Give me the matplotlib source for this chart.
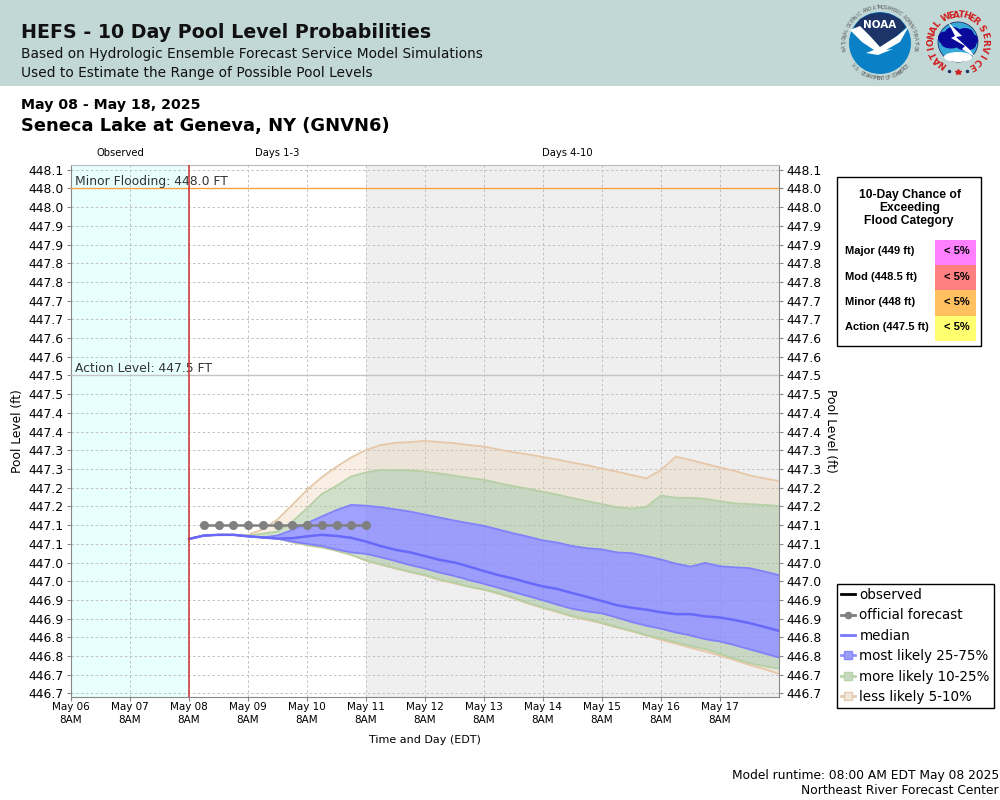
import numpy as np
import pandas as pd
import matplotlib
matplotlib.use("Agg")
import matplotlib.pyplot as plt
from matplotlib.lines import Line2D
from matplotlib.patches import Circle, Ellipse, Polygon, Rectangle

################################################################################
# data, 6 hourly from May 08 8AM, feet
median = [447.063,447.072,447.074,447.074,447.070,447.067,447.064,447.065,447.070,447.074,
          447.071,447.066,447.056,447.044,447.034,447.027,447.017,447.007,447.000,446.989,
          446.977,446.966,446.957,446.946,446.936,446.929,446.918,446.908,446.897,446.886,
          446.879,446.874,446.867,446.862,446.862,446.856,446.853,446.846,446.838,446.828,446.817]
p75 = [447.063,447.072,447.074,447.074,447.070,447.067,447.072,447.087,447.105,447.123,
       447.140,447.154,447.152,447.148,447.142,447.136,447.128,447.120,447.112,447.105,
       447.098,447.088,447.078,447.069,447.059,447.053,447.044,447.038,447.035,447.027,
       447.025,447.017,447.008,446.997,446.989,446.999,446.990,446.987,446.985,446.976,446.966]
p25 = [447.063,447.072,447.074,447.074,447.070,447.067,447.064,447.056,447.050,447.044,
       447.035,447.027,447.023,447.014,447.004,446.993,446.984,446.973,446.964,446.953,
       446.943,446.932,446.921,446.910,446.899,446.887,446.876,446.869,446.864,446.853,
       446.841,446.831,446.823,446.813,446.805,446.795,446.789,446.779,446.768,446.757,446.746]
p90 = [447.063,447.072,447.074,447.074,447.072,447.077,447.083,447.109,447.145,447.183,
       447.205,447.230,447.241,447.247,447.247,447.246,447.243,447.238,447.232,447.226,
       447.221,447.212,447.204,447.197,447.189,447.181,447.172,447.164,447.156,447.148,
       447.144,447.149,447.179,447.173,447.173,447.170,447.164,447.158,447.156,447.154,447.151]
p10 = [447.063,447.072,447.074,447.074,447.070,447.067,447.064,447.055,447.047,447.041,
       447.032,447.021,447.006,446.995,446.985,446.975,446.967,446.955,446.946,446.935,
       446.928,446.918,446.906,446.892,446.880,446.869,446.857,446.849,446.839,446.828,
       446.818,446.806,446.797,446.787,446.777,446.769,446.756,446.743,446.731,446.723,446.716]
p95 = [447.063,447.072,447.074,447.074,447.074,447.089,447.115,447.154,447.194,447.228,
       447.256,447.281,447.301,447.314,447.320,447.322,447.325,447.322,447.319,447.314,
       447.310,447.302,447.295,447.289,447.282,447.275,447.267,447.260,447.251,447.243,
       447.234,447.225,447.247,447.283,447.274,447.264,447.254,447.245,447.233,447.225,447.218]
p5 = [447.063,447.072,447.074,447.074,447.070,447.067,447.064,447.054,447.046,447.040,
      447.031,447.020,447.005,446.994,446.984,446.974,446.965,446.953,446.944,446.935,
      446.927,446.916,446.904,446.890,446.878,446.867,446.855,446.846,446.837,446.826,
      446.816,446.805,446.793,446.783,446.772,446.762,446.751,446.739,446.726,446.715,446.702]
official = [447.10]*12

yTicks = [448.05,448.00,447.95,447.90,447.85,447.80,447.75,447.70,447.65,447.60,447.55,447.50,
          447.45,447.40,447.35,447.30,447.25,447.20,447.15,447.10,447.05,447.00,446.95,446.90,
          446.85,446.80,446.75,446.70,446.65]
yLabels = ["448.1","448.0","448.0","447.9","447.9","447.8","447.8","447.7","447.7","447.6","447.6","447.5",
           "447.5","447.4","447.4","447.3","447.3","447.2","447.2","447.1","447.1","447.0","447.0","446.9",
           "446.9","446.8","446.8","446.7","446.7"]
categories = ["Major (449 ft)","Mod (448.5 ft)","Minor (448 ft)","Action (447.5 ft)"]
chances = ["< 5%","< 5%","< 5%","< 5%"]
catColors = ["#ff80ff","#ff8080","#ffc060","#ffff70"]
minorLevel = 448.0
actionLevel = 447.5

################################################################################
plt.rcParams['font.family'] = ['DejaVu Sans']
fig = plt.figure(figsize=(10, 8), dpi=100, facecolor="white")

# page furniture is placed in pixels on a full figure axes
page = fig.add_axes([0, 0, 1, 1], zorder=0)
page.set_xlim(0, 1000); page.set_ylim(800, 0); page.axis("off")
over = fig.add_axes([0, 0, 1, 1], zorder=5)
over.set_xlim(0, 1000); over.set_ylim(800, 0); over.axis("off"); over.patch.set_alpha(0)

page.add_patch(Rectangle((0, 0), 1000, 85.5, fc="#c2d8d6", ec="none"))
page.text(21, 33, "HEFS - 10 Day Pool Level Probabilities", fontsize=13.7, fontweight="bold", color="#111111", va="center")
page.text(21, 54, "Based on Hydrologic Ensemble Forecast Service Model Simulations", fontsize=9.9, color="#111111", va="center")
page.text(21, 73, "Used to Estimate the Range of Possible Pool Levels", fontsize=9.9, color="#111111", va="center")
page.text(21, 105, "May 08 - May 18, 2025", fontsize=10.2, fontweight="bold", color="black", va="center")
page.text(21, 126, "Seneca Lake at Geneva, NY (GNVN6)", fontsize=12.9, fontweight="bold", color="black", va="center")
page.text(120, 153.5, "Observed", fontsize=7.2, ha="center", va="center")
page.text(277, 153.5, "Days 1-3", fontsize=7.2, ha="center", va="center")
page.text(567, 153.5, "Days 4-10", fontsize=7.2, ha="center", va="center")
page.text(425, 740, "Time and Day (EDT)", fontsize=8, ha="center", va="center")
page.text(18, 431, "Pool Level (ft)", fontsize=8.8, rotation=90, ha="center", va="center")
page.text(831, 431, "Pool Level (ft)", fontsize=8.8, rotation=270, ha="center", va="center")
page.text(999, 775, "Model runtime: 08:00 AM EDT May 08 2025", fontsize=8.8, ha="right", va="center")
page.text(999, 791, "Northeast River Forecast Center", fontsize=8.8, ha="right", va="center")

def ring_text(ax, cx, cy, r, text, a0, a1, color, size, weight="normal", bottom=False):
	# angles clockwise from the top of the circle
	for ch, a in zip(text, np.linspace(a0, a1, len(text))):
		t = np.radians(a)
		rot = 180 - a if bottom else -a
		ax.text(cx + r*np.sin(t), cy - r*np.cos(t), ch, color=color, fontsize=size, fontweight=weight,
				rotation=rot, ha="center", va="center", rotation_mode="anchor")

# NOAA logo
cx, cy = 880, 43
page.add_patch(Circle((cx, cy), 31, fc="#0a80c6", ec="none"))
page.add_patch(Polygon([[854, 27], [860, 19], [870, 14], [880, 12.5], [890, 14], [900, 19], [906, 27], [893, 40], [881, 48], [868, 38]],
					   fc="#1c3468", ec="none"))
page.add_patch(Polygon([[850, 30], [860, 26], [870, 36], [880, 47], [897, 36], [909, 26], [900, 42], [886, 50], [893, 49], [878, 55], [866, 53], [874, 50], [862, 42]],
					   fc="white", ec="none"))
page.text(880, 25, "NOAA", color="white", fontsize=7.5, fontweight="bold", ha="center", va="center")
ring_text(page, cx, cy, 35.5, "NATIONAL OCEANIC AND ATMOSPHERIC ADMINISTRATION", -100, 100, "#555555", 3.3)
ring_text(page, cx, cy, 35.5, "U.S. DEPARTMENT OF COMMERCE", -130, -230, "#555555", 3.3, bottom=True)

# NWS logo
nx, ny = 958, 42
page.add_patch(Circle((nx, ny), 20, fc="#38a8d8", ec="#1c3468", lw=0.6))
page.add_patch(Ellipse((nx, ny+15), 28, 10, fc="white", ec="none"))
for ex, ey, ew, eh in [(945, 38, 14, 13), (953, 33, 16, 12), (965, 35, 18, 14), (972, 40, 12, 12), (951, 43, 20, 11), (966, 45, 20, 11)]:
	page.add_patch(Ellipse((ex, ey), ew, eh, fc="#0a0a9a", ec="none"))
page.add_patch(Polygon([[948, 22], [962, 36], [956, 37], [970, 50], [975, 57], [962, 49], [965, 46], [951, 38], [955, 36]], fc="white", ec="none"))
ring_text(page, nx, ny, 27, "NATIONAL", -144, -49, "#d02020", 6.5, "bold")
ring_text(page, nx, ny, 27, "WEATHER", -25, 39, "#d02020", 6.5, "bold")
ring_text(page, nx, ny, 27, "SERVICE", 60, 150, "#d02020", 6.5, "bold")
page.plot([949, 967], [71, 71], ls="none", marker="o", ms=1.5, color="#1c3468")
page.plot([958], [72], ls="none", marker="*", ms=4, color="#d02020")

################################################################################
# main plot
ax = fig.add_axes([0.071, 1-697/800, 0.708, (697-165)/800], zorder=2)
ax.set_facecolor("white")
times = pd.date_range("2025-05-08 08:00", periods=len(median), freq="6h")
fcstTimes = pd.date_range("2025-05-08 14:00", periods=len(official), freq="6h")
t0 = pd.Timestamp("2025-05-06 08:00")
tNow = pd.Timestamp("2025-05-08 08:00")
tDay3 = pd.Timestamp("2025-05-11 08:00")
tEnd = pd.Timestamp("2025-05-18 08:00")

ax.axvspan(t0, tNow, color="#e8ffff", lw=0, zorder=0)
ax.axvspan(tDay3, tEnd, color="#efefef", lw=0, zorder=0)
ax.set_axisbelow(True)
ax.grid(True, color="#c0c0c0", ls=(0, (2.5, 2.5)), lw=0.7)

ax.fill_between(times, p90, p95, color="#e8c9a8", alpha=0.3, lw=0, zorder=2)
ax.fill_between(times, p5, p10, color="#e8c9a8", alpha=0.3, lw=0, zorder=2)
ax.fill_between(times, p75, p90, color="#a8c5a0", alpha=0.55, lw=0, zorder=2)
ax.fill_between(times, p10, p25, color="#a8c5a0", alpha=0.55, lw=0, zorder=2)
ax.fill_between(times, p25, p75, color="#8888ff", alpha=0.8, lw=0, zorder=2)
ax.plot(times, p95, color="#e6c8a8", lw=1.3, zorder=3)
ax.plot(times, p5, color="#e6c8a8", lw=1.3, zorder=3)
ax.plot(times, p90, color="#b4d0a4", lw=1.3, zorder=3)
ax.plot(times, p10, color="#b4d0a4", lw=1.3, zorder=3)
ax.plot(times, p75, color="#8080fa", lw=1.3, zorder=4)
ax.plot(times, p25, color="#8080fa", lw=1.3, zorder=4)
ax.plot(times, median, color="#6868fa", lw=1.8, zorder=5)
ax.plot(fcstTimes, official, color="#808080", lw=1.8, marker="o", ms=5.5, zorder=6)

ax.axhline(minorLevel, color="#ffa040", lw=1, zorder=3)
ax.axhline(actionLevel, color="#c4c4c4", lw=1, zorder=3)
ax.axvline(tNow, color="#d03030", lw=1.1, zorder=7)
ax.text(0.0055, 448.019, "Minor Flooding: 448.0 FT", transform=ax.get_yaxis_transform(), fontsize=8.9, color="#333333", va="center")
ax.text(0.0055, 447.519, "Action Level: 447.5 FT", transform=ax.get_yaxis_transform(), fontsize=8.9, color="#333333", va="center")

ax.set_xlim(t0, tEnd)
ax.set_ylim(446.6404, 448.0628)
dayTicks = pd.date_range("2025-05-06 08:00", periods=12, freq="D")
ax.set_xticks(dayTicks)
ax.set_xticklabels([d.strftime("%b %d") + "\n8AM" for d in dayTicks], fontsize=7.5, linespacing=1.45)
ax.set_yticks(yTicks)
ax.set_yticklabels(yLabels, fontsize=8.9)
ax.tick_params(axis="x", length=3, width=0.8, color="#888888", pad=0.5)
ax.tick_params(axis="y", length=3, width=0.8, color="#888888", pad=2.5, labelright=True, right=True)
for s in ["left", "bottom", "right"]:
	ax.spines[s].set_color("#888888")
ax.spines["top"].set_color("#bbbbbb")

################################################################################
# chance table
over.add_patch(Rectangle((836.5, 176.5), 144, 169, fc="white", ec="black", lw=1))
over.text(910, 195, "10-Day Chance of", fontfamily="Liberation Sans", fontsize=8.7, fontweight="bold", ha="center", va="center")
over.text(910, 208, "Exceeding", fontfamily="Liberation Sans", fontsize=8.7, fontweight="bold", ha="center", va="center")
over.text(909, 221, "Flood Category", fontfamily="Liberation Sans", fontsize=8.7, fontweight="bold", ha="center", va="center")
for i, cat in enumerate(categories):
	y0 = 240 + i*25.2
	over.add_patch(Rectangle((935, y0), 41, 25.2, fc=catColors[i], ec="none"))
	over.text(845, y0+11.5, cat, fontfamily="Liberation Sans", fontsize=8, fontweight="bold", ha="left", va="center")
	over.text(957, y0+11.5, chances[i], fontfamily="Liberation Sans", fontsize=8, fontweight="bold", ha="center", va="center")

# legend
handles = [
	Line2D([], [], color="black", lw=2),
	Line2D([], [], color="#808080", lw=2, marker="o", ms=4.5),
	Line2D([], [], color="#7878fa", lw=2),
	Line2D([], [], color="#9090fa", lw=2, marker="s", ms=6, mfc="#9c9cfa", mec="#8888fa"),
	Line2D([], [], color="#b8d4a8", lw=2, marker="s", ms=6, mfc="#c9d8c3", mec="#b8d4a8"),
	Line2D([], [], color="#e6ccb0", lw=2, marker="s", ms=6, mfc="#f0e6da", mec="#e6ccb0"),
]
names = ["observed", "official forecast", "median", "most likely 25-75%", "more likely 10-25%", "less likely 5-10%"]
leg = over.legend(handles, names, loc="upper left", bbox_to_anchor=(0.837, 1-584/800), borderaxespad=0,
				  fontsize=9.75, frameon=True, fancybox=False, edgecolor="black", framealpha=1,
				  handlelength=1.05, handletextpad=0.3, labelspacing=0.47, borderpad=0.3)
leg.get_frame().set_linewidth(1)

plt.savefig("out.png", dpi=100)
